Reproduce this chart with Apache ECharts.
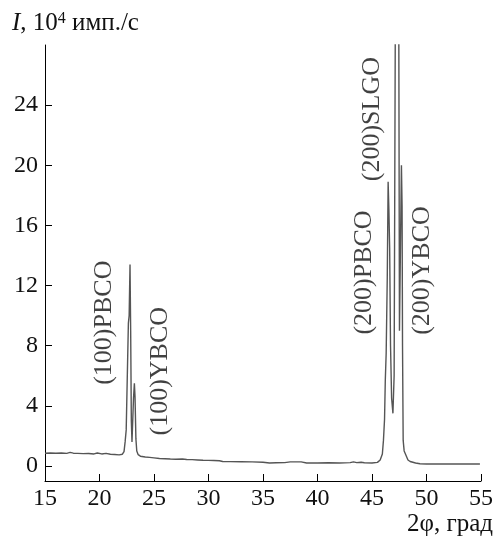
<!DOCTYPE html>
<html>
<head>
<meta charset="utf-8">
<script src="https://cdn.jsdelivr.net/npm/echarts@6/dist/echarts.min.js"></script>
<style>
html,body{margin:0;padding:0;background:#fff;}
#chart{width:497px;height:538px;}
</style>
</head>
<body>
<div id="chart"></div>
<script>
var twoTheta = [15.0,15.5,16.0,16.5,17.0,17.3,17.6,18.0,18.5,19.0,19.5,19.8,20.2,20.6,21.0,21.4,21.8,22.1,
  22.25,22.35,22.45,22.55,22.65,22.72,22.8,22.86,22.92,22.98,23.04,23.12,23.2,23.26,23.34,23.42,23.55,23.75,
  24.2,24.6,25.0,25.5,26.0,26.5,27.0,27.6,28.0,28.5,29.0,29.5,30.0,30.5,31.0,31.3,32.0,33.0,34.0,35.0,35.6,36.2,
  37.0,37.5,38.5,39.0,40.0,41.0,42.0,43.0,43.3,43.6,44.0,44.3,45.0,45.5,45.75,
  45.95,46.05,46.15,46.22,46.3,46.4,46.48,46.55,46.62,46.7,46.8,46.92,47.03,47.15,47.45,47.52,47.7,47.76,47.8,
  47.86,47.95,48.05,48.3,48.5,49.0,49.4,50.0,52.0,54.9];
var intensity = [0.85,0.86,0.85,0.86,0.84,0.9,0.85,0.84,0.82,0.83,0.8,0.86,0.8,0.84,0.78,0.76,0.74,0.78,
  0.95,1.6,2.4,2.5,9.5,10.0,13.4,9.0,3.0,1.6,1.55,4.5,5.5,4.6,1.8,1.0,0.75,0.65,
  0.6,0.57,0.54,0.5,0.48,0.46,0.45,0.46,0.43,0.42,0.4,0.38,0.37,0.36,0.35,0.3,0.29,0.28,0.27,0.25,0.2,0.21,
  0.22,0.27,0.27,0.2,0.2,0.21,0.2,0.22,0.27,0.22,0.25,0.21,0.2,0.24,0.4,
  0.8,1.7,3.1,5.7,7.5,12.5,18.9,17.0,14.5,8.0,4.5,3.5,6.0,32,32,9,20.0,17.3,8.0,
  1.7,1.0,0.87,0.4,0.3,0.2,0.15,0.13,0.13,0.13];

var xTicks = [15,20,25,30,35,40,45,50,55];
var yTicks = [0,4,8,12,16,20,24];

var peakNames = ['(100)PBCO','(100)YBCO','(200)PBCO','(200)SLGO','(200)YBCO'];
var peakLabelX = [20.41, 25.55, 44.27, 45.0, 49.59];
var peakLabelY = [9.53, 6.3, 12.87, 23.07, 13.0];

var serif = '"Liberation Serif", "DejaVu Serif", serif';

var lineData = twoTheta.map(function(x, i){ return [x, intensity[i]]; });
var labelData = peakNames.map(function(n, i){ return [peakLabelX[i], peakLabelY[i], n]; });

var chart = echarts.init(document.getElementById('chart'), null, {renderer:'canvas'});
chart.setOption({
  animation: false,
  backgroundColor: '#fff',
  grid: {left: 45, right: 16, top: 45, bottom: 57, containLabel: false},
  xAxis: {
    type: 'value', min: 15, max: 55, interval: 5,
    axisLine: {show: true, onZero: false, lineStyle: {color: '#000', width: 1}},
    axisTick: {show: true, inside: true, length: 7, lineStyle: {color: '#000'}},
    axisLabel: {color: '#111', fontFamily: serif, fontSize: 24, margin: 6,
      customValues: xTicks},
    splitLine: {show: false}
  },
  yAxis: {
    type: 'value', min: -1, max: 28,
    axisLine: {show: true, onZero: false, lineStyle: {color: '#000', width: 1}},
    axisTick: {show: true, inside: true, length: 7, lineStyle: {color: '#000'}, customValues: yTicks},
    axisLabel: {color: '#111', fontFamily: serif, fontSize: 24, margin: 7, customValues: yTicks},
    splitLine: {show: false}
  },
  graphic: [
    {type: 'text', left: 12, top: 11, silent: true,
     style: {text: '{i|I}, 10{sup|4} имп./с', fill: '#111', font: '25px ' + serif,
       rich: {
         i: {fontStyle: 'italic', fontFamily: serif, fontSize: 25, fill: '#111'},
         sup: {fontFamily: serif, fontSize: 16, verticalAlign: 'top', fill: '#111', padding: [0,0,9,0]}
       }}},
    {type: 'text', right: 4, top: 512, silent: true,
     style: {text: '2φ, град', fill: '#111', font: '25px ' + serif}}
  ],
  series: [
    {type: 'line', data: lineData, showSymbol: false, symbol: 'none', clip: true,
     lineStyle: {color: '#555', width: 1.4}, silent: true},
    {type: 'scatter', data: labelData, symbolSize: 0, silent: true,
     label: {show: true, position: 'inside', rotate: 90, align: 'center', verticalAlign: 'middle',
       fontFamily: serif, fontSize: 26, color: '#111',
       formatter: function(p){ return p.data[2]; }}}
  ]
});
</script>
</body>
</html>
